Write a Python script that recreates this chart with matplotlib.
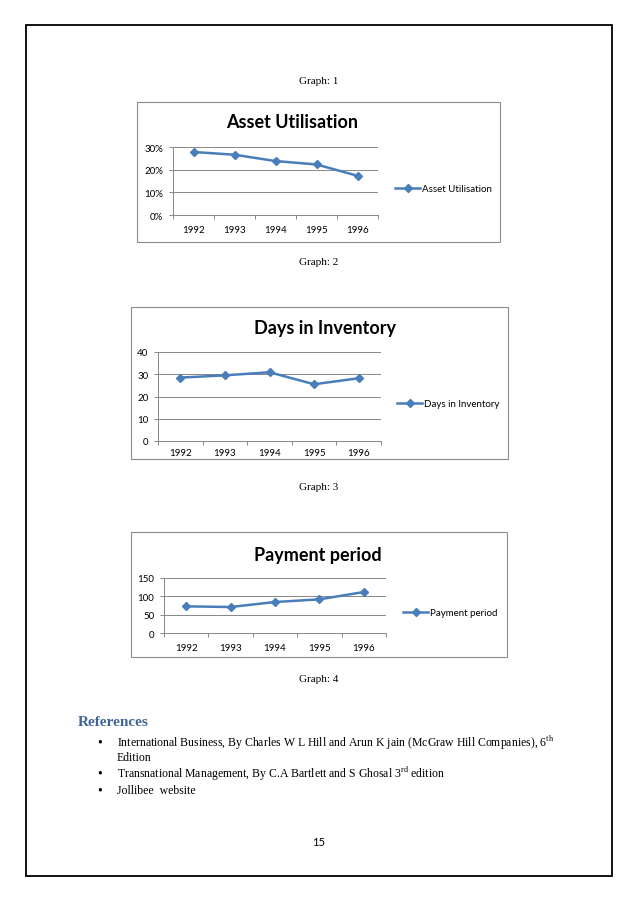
import matplotlib
matplotlib.use('Agg')
import matplotlib.pyplot as plt
from matplotlib.patches import Rectangle
from matplotlib.ticker import PercentFormatter, FixedLocator, NullFormatter

# Data
years = ['1992', '1993', '1994', '1995', '1996']
asset_util = [27.8, 26.6, 23.8, 22.3, 17.3]   # percent
days_inv = [28.5, 29.5, 30.9, 25.5, 28.2]
payment = [72.7, 70.9, 84.5, 91.8, 111.8]

references = [
    r'International Business, By Charles W L Hill and Arun K jain (McGraw Hill Companies), 6$^{\mathrm{th}}$',
    r'Transnational Management, By C.A Bartlett and S Ghosal 3$^{\mathrm{rd}}$ edition',
    'Jollibee  website',
]

W, H = 638, 903
plt.rcParams['mathtext.fontset'] = 'custom'
plt.rcParams['mathtext.rm'] = 'Liberation Serif'
fig = plt.figure(figsize=(W / 100, H / 100), dpi=100)

LINE = '#4A7EBB'
GRID = '#878787'
CHART_FONT = 'Lato'
SERIF = 'Liberation Serif'


def fx(x):
    return x / W


def fy(y):
    return 1 - y / H


# page border
fig.patches.append(Rectangle((fx(26), fy(877)), fx(612) - fx(26), fy(26) - fy(877),
                             transform=fig.transFigure, fill=False, edgecolor='black', linewidth=1.3))


def draw_chart(box, area, values, yticks, title, title_xy, legend_xy, pct=False, xpad=7):
    # outer chart frame
    bx0, by0, bx1, by1 = box
    fig.patches.append(Rectangle((fx(bx0), fy(by1)), fx(bx1) - fx(bx0), fy(by0) - fy(by1),
                                 transform=fig.transFigure, fill=False, edgecolor='#8c8c8c', linewidth=0.8))
    x0, y0, x1, y1 = area
    ax = fig.add_axes([fx(x0), fy(y1), fx(x1) - fx(x0), fy(y0) - fy(y1)])
    xs = list(range(len(years)))
    ax.plot(xs, values, color=LINE, linewidth=1.8, marker='D', markersize=4.2, label=title)
    ax.set_xlim(-0.5, len(years) - 0.5)
    ax.set_ylim(yticks[0], yticks[-1])
    ax.set_yticks(yticks)
    if pct:
        ax.yaxis.set_major_formatter(PercentFormatter(decimals=0))
    ax.xaxis.set_major_locator(FixedLocator([i - 0.5 for i in range(len(years) + 1)]))
    ax.xaxis.set_major_formatter(NullFormatter())
    ax.set_xticks(xs, minor=True)
    ax.set_xticklabels(years, minor=True, fontsize=7, family=CHART_FONT)
    ax.tick_params(axis='x', which='major', length=3, color=GRID, width=0.7)
    ax.tick_params(axis='x', which='minor', length=0, pad=xpad)
    ax.tick_params(axis='y', length=3, color=GRID, width=0.7, pad=4, labelsize=7)
    for lab in ax.get_yticklabels():
        lab.set_family(CHART_FONT)
    ax.grid(axis='y', color=GRID, linewidth=0.7)
    ax.set_axisbelow(True)
    for s in ['top', 'right']:
        ax.spines[s].set_visible(False)
    for s in ['left', 'bottom']:
        ax.spines[s].set_color(GRID)
        ax.spines[s].set_linewidth(0.7)
    fig.text(fx(title_xy[0]), fy(title_xy[1]), title, ha='center', va='center',
             fontsize=13, fontweight='bold', family=CHART_FONT)
    ax.legend(loc='center left', bbox_to_anchor=(fx(legend_xy[0]), fy(legend_xy[1])),
              bbox_transform=fig.transFigure, frameon=False,
              prop={'family': CHART_FONT, 'size': 7}, handlelength=2.6,
              handletextpad=0.2, borderpad=0, borderaxespad=0)
    return ax


draw_chart((137, 103, 500, 243), (173, 148, 378, 216), asset_util, [0, 10, 20, 30],
           'Asset Utilisation', (292, 123), (395, 190), pct=True)
draw_chart((131, 308, 508, 460), (158, 353, 381, 442), days_inv, [0, 10, 20, 30, 40],
           'Days in Inventory', (325, 329), (397, 405), xpad=5)
draw_chart((131, 533, 507, 658), (164, 579, 386, 634), payment, [0, 50, 100, 150],
           'Payment period', (318, 555), (403, 614))

# page text
for label, y in [('Graph: 1', 82), ('Graph: 2', 263), ('Graph: 3', 487), ('Graph: 4', 680)]:
    fig.text(fx(319), fy(y), label, ha='center', va='center', fontsize=8, family=SERIF)

fig.text(fx(78), fy(723), 'References', ha='left', va='center', fontsize=11,
         fontweight='bold', color='#3F6597', family=SERIF)
ref_rows = [743, 774, 791]
for text, y in zip(references, ref_rows):
    fig.text(fx(100), fy(y), u'\u2022', ha='center', va='center', fontsize=10, family=SERIF)
    fig.text(fx(117), fy(y), text, ha='left', va='center', fontsize=8.5, family=SERIF)
fig.text(fx(117), fy(758), 'Edition', ha='left', va='center', fontsize=8.5, family=SERIF)

fig.text(fx(319), fy(843), '15', ha='center', va='center', fontsize=8, family=CHART_FONT)

fig.savefig('out.png', dpi=100)
plt.close(fig)
